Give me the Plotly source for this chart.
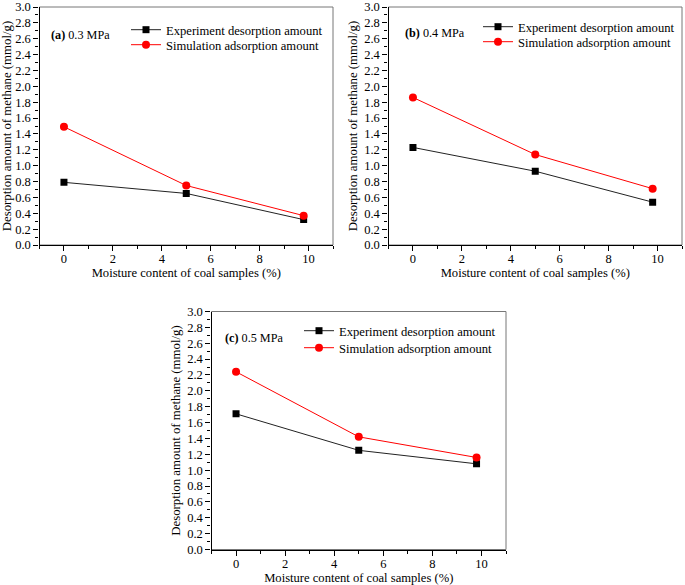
import plotly.graph_objects as go

# humedad de las muestras (%)
humedad = [0, 5, 9.8]

# (a) 0.3 MPa
exp_a = [0.79, 0.65, 0.32]
sim_a = [1.49, 0.75, 0.37]
# (b) 0.4 MPa
exp_b = [1.23, 0.93, 0.54]
sim_b = [1.86, 1.14, 0.71]
# (c) 0.5 MPa
exp_c = [1.71, 1.25, 1.08]
sim_c = [2.24, 1.42, 1.16]

paneles = [
    ("(a)", "0.3 MPa", exp_a, sim_a),
    ("(b)", "0.4 MPa", exp_b, sim_b),
    ("(c)", "0.5 MPa", exp_c, sim_c),
]

W, H = 685, 585
FUENTE = "Times New Roman, Liberation Serif, serif"

# areas de trazado en pixeles (izq, arriba, der, abajo)
cajas = [
    (39.5, 7, 333, 245),
    (388.5, 7, 682, 245),
    (211.5, 311.5, 506, 549.5),
]
# posicion de cada fila de leyenda (x, y centro de fila) en px
leyendas = [(126, 30, 45), (478, 27, 42), (299, 331, 348)]
etiquetas = [(49, 35), (403, 33), (223, 338)]

fig = go.Figure()

for i, (letra, presion, exp, sim) in enumerate(paneles):
    n = "" if i == 0 else str(i + 1)
    leg_exp = "legend" + ("" if i == 0 else str(2 * i + 1))
    leg_sim = "legend" + str(2 * i + 2)
    fig.add_trace(go.Scatter(
        x=humedad, y=exp, mode="lines+markers",
        name="Experiment desorption amount",
        line=dict(color="#222222", width=1),
        marker=dict(symbol="square", size=7, color="black"),
        xaxis="x" + n, yaxis="y" + n, legend=leg_exp,
    ))
    fig.add_trace(go.Scatter(
        x=humedad, y=sim, mode="lines+markers",
        name="Simulation adsorption amount",
        line=dict(color="red", width=1),
        marker=dict(symbol="circle", size=8, color="red"),
        xaxis="x" + n, yaxis="y" + n, legend=leg_sim,
    ))

    x0, y0, x1, y1 = cajas[i]
    lx, ly1, ly2 = leyendas[i]
    estilo_leyenda = dict(
        x=lx / W, xanchor="left", yanchor="middle",
        bgcolor="rgba(0,0,0,0)", borderwidth=0, itemwidth=30,
        font=dict(family=FUENTE, size=12.6, color="black"),
    )
    fig.update_layout(**{
        "xaxis" + n: dict(
            domain=[x0 / W, x1 / W], anchor="y" + n, automargin=False,
            range=[-1, 11], tick0=0, dtick=2,
            ticks="outside", ticklen=5, tickwidth=1, tickcolor="black",
            minor=dict(dtick=1, ticks="outside", ticklen=3, tickcolor="black"),
            showline=True, linecolor="black", linewidth=1.3,
            showgrid=False, zeroline=False, ticklabelstandoff=-3,
            tickfont=dict(family=FUENTE, size=12.5, color="black"),
            title=dict(text="Moisture content of coal samples (%)", standoff=3,
                       font=dict(family=FUENTE, size=12.6, color="black")),
        ),
        "yaxis" + n: dict(
            domain=[1 - y1 / H, 1 - y0 / H], anchor="x" + n, automargin=False,
            range=[0, 3.0], tick0=0, dtick=0.2, tickformat=".1f",
            ticks="outside", ticklen=5, tickwidth=1, tickcolor="black",
            minor=dict(dtick=0.1, ticks="outside", ticklen=3, tickcolor="black"),
            showline=True, linecolor="black", linewidth=1.3,
            showgrid=False, zeroline=False,
            tickfont=dict(family=FUENTE, size=12.5, color="black"),
            title=dict(text="Desorption amount of methane (mmol/g)", standoff=3,
                       font=dict(family=FUENTE, size=12.8, color="black")),
        ),
        leg_exp: dict(estilo_leyenda, y=1 - ly1 / H),
        leg_sim: dict(estilo_leyenda, y=1 - ly2 / H),
    })

    # marco superior y derecho gris
    fig.add_shape(type="rect", xref="x" + n + " domain", yref="y" + n + " domain",
                  x0=0, x1=1, y0=0, y1=1, layer="below",
                  line=dict(color="#777777", width=1))

    fig.add_annotation(
        x=etiquetas[i][0] / W, y=1 - etiquetas[i][1] / H,
        xref="paper", yref="paper", xanchor="left", yanchor="middle",
        text="<b>" + letra + "</b> " + presion, showarrow=False,
        font=dict(family=FUENTE, size=12.2, color="black"),
    )

fig.update_layout(
    width=W, height=H,
    margin=dict(l=0, r=0, t=0, b=0),
    paper_bgcolor="white", plot_bgcolor="white",
    showlegend=True,
)

# quitar el margen por defecto del body para que la figura empiece en (0, 0)
fig.write_html("out.html", config={"displayModeBar": False},
               post_script="document.body.style.margin='0';")
